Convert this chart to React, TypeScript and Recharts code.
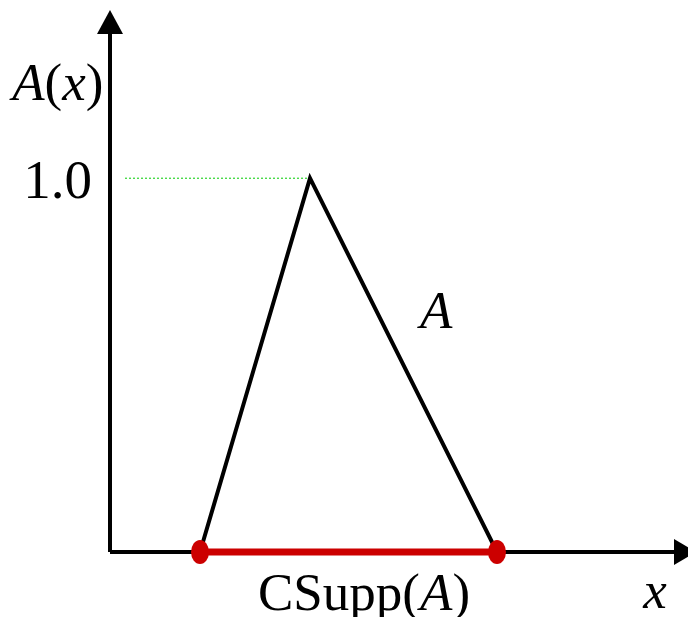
import { ComposedChart, Line, XAxis, YAxis, ReferenceDot } from "recharts";

// membership function A: triangle (left foot, peak, right foot)
const triangle = [
  { x: 1.536, y: 0 },
  { x: 3.413, y: 1 },
  { x: 6.604, y: 0 },
];
// core support CSupp(A) on the x axis
const support = [
  { x: 1.536, y: 0 },
  { x: 6.604, y: 0 },
];
// dotted guide at height 1.0
const guide = [
  { x: 0.256, y: 1 },
  { x: 3.413, y: 1 },
];
const xAxisLine = [
  { x: 0, y: 0 },
  { x: 9.66, y: 0 },
];
const yAxisLine = [
  { x: 0, y: 0 },
  { x: 0, y: 1.386 },
];
const yTicks = [1];

const FONT = "'Liberation Serif', 'Times New Roman', serif";
const RED = "#cc0000";

const ArrowRight = (p: any) => (
  <polygon
    points={`${p.cx},${p.cy} ${p.cx - 22},${p.cy - 13} ${p.cx - 22},${p.cy + 13}`}
    fill="#000"
  />
);
const ArrowUp = (p: any) => (
  <polygon
    points={`${p.cx},${p.cy} ${p.cx - 13},${p.cy + 24} ${p.cx + 13},${p.cy + 24}`}
    fill="#000"
  />
);

const SupportDot = (p: any) => (
  <ellipse key={p.index} cx={p.cx} cy={p.cy} rx={9} ry={12} fill={RED} />
);

const textLabel = (parts: { t: string; i?: boolean }[]) => (p: any) => (
  <text x={p.cx} y={p.cy} fontFamily={FONT} fontSize={53} fill="#000">
    {parts.map((s, k) => (
      <tspan key={k} fontStyle={s.i ? "italic" : "normal"}>
        {s.t}
      </tspan>
    ))}
  </text>
);

export default function App() {
  return (
    <ComposedChart
      width={696}
      height={625}
      margin={{ top: 10, right: 0, bottom: 73, left: 0 }}
      style={{ margin: -8 }}
    >
      <XAxis type="number" dataKey="x" domain={[0, 10]} hide />
      <YAxis
        type="number"
        dataKey="y"
        domain={[0, 1.45]}
        width={110}
        ticks={yTicks}
        tickFormatter={(v: number) => v.toFixed(1)}
        axisLine={false}
        tickLine={false}
        tickSize={0}
        tickMargin={18}
        tick={{ fontSize: 55, fill: "#000", fontFamily: FONT }}
      />
      <Line data={guide} dataKey="y" stroke="#00cc00" strokeWidth={1} strokeDasharray="2 2" dot={false} isAnimationActive={false} />
      <Line data={xAxisLine} dataKey="y" stroke="#000" strokeWidth={4} dot={false} isAnimationActive={false} />
      <Line data={yAxisLine} dataKey="y" stroke="#000" strokeWidth={4} dot={false} isAnimationActive={false} />
      <Line data={triangle} dataKey="y" stroke="#000" strokeWidth={4} strokeLinejoin="miter" dot={false} isAnimationActive={false} />
      <Line data={support} dataKey="y" stroke={RED} strokeWidth={7} dot={SupportDot} isAnimationActive={false} />
      <ReferenceDot x={10} y={0} ifOverflow="visible" shape={ArrowRight} />
      <ReferenceDot x={0} y={1.45} ifOverflow="visible" shape={ArrowUp} />
      <ReferenceDot x={-1.67} y={1.209} ifOverflow="visible" shape={textLabel([{ t: "A", i: true }, { t: "(" }, { t: "x", i: true }, { t: ")" }])} />
      <ReferenceDot x={5.29} y={0.599} ifOverflow="visible" shape={textLabel([{ t: "A", i: true }])} />
      <ReferenceDot x={2.526} y={-0.155} ifOverflow="visible" shape={textLabel([{ t: "CSupp(" }, { t: "A", i: true }, { t: ")" }])} />
      <ReferenceDot x={9.1} y={-0.15} ifOverflow="visible" shape={textLabel([{ t: "x", i: true }])} />
    </ComposedChart>
  );
}
